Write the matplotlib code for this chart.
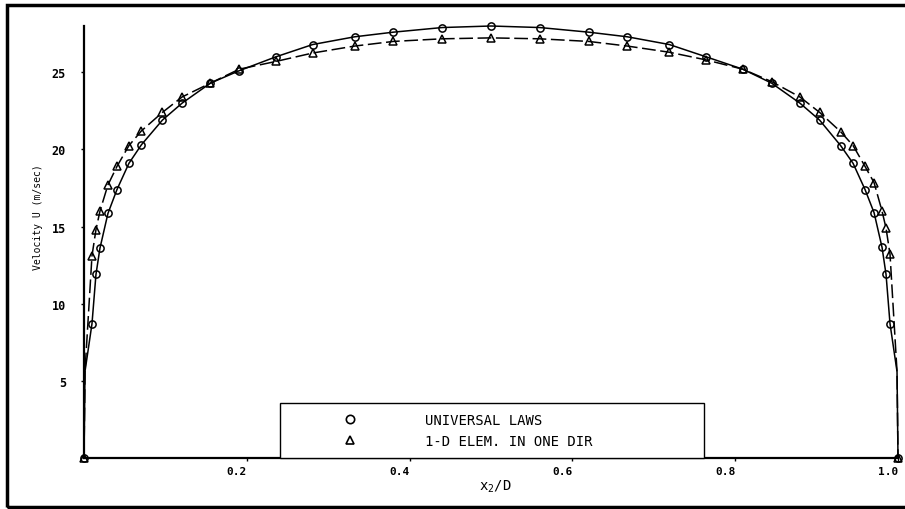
import matplotlib.pyplot as plt
from matplotlib.lines import Line2D
from matplotlib.patches import Rectangle

# profile across the duct
x_over_d = [0.0, 0.0012, 0.0098, 0.0147, 0.0196, 0.0294, 0.0405, 0.0552, 0.0705,
            0.0963, 0.1205, 0.1554, 0.1906, 0.2356, 0.2810, 0.3325, 0.3800, 0.4400,
            0.5000,
            0.5600, 0.6200, 0.6675, 0.7190, 0.7644, 0.8094, 0.8446, 0.8795, 0.9037,
            0.9295, 0.9448, 0.9595, 0.9706, 0.9804, 0.9853, 0.9902, 0.9988, 1.0]

u_universal = [0.0, 5.6, 8.7, 11.9, 13.6, 15.85, 17.4, 19.1, 20.3,
               21.9, 23.0, 24.3, 25.1, 26.0, 26.8, 27.3, 27.6, 27.9,
               28.0,
               27.9, 27.6, 27.3, 26.8, 26.0, 25.2, 24.3, 23.0, 21.9,
               20.25, 19.1, 17.4, 15.9, 13.65, 11.9, 8.7, 5.6, 0.0]

u_one_dir = [0.0, 5.6, 13.1, 14.8, 16.0, 17.7, 18.9, 20.25, 21.2,
             22.4, 23.4, 24.3, 25.2, 25.7, 26.25, 26.7, 27.0, 27.17,
             27.23,
             27.17, 27.0, 26.7, 26.3, 25.8, 25.2, 24.4, 23.4, 22.4,
             21.15, 20.25, 18.9, 17.85, 16.0, 14.9, 13.2, 5.6, 0.0]

series_labels = ["UNIVERSAL LAWS", "1-D ELEM. IN ONE DIR"]
x_ticks = [0.2, 0.4, 0.6, 0.8, 1.0]
x_tick_labels = ["0.2", "0.4", "0.6", "0.8", "1.0"]
y_ticks = [5, 10, 15, 20, 25]
y_tick_labels = ["5", "10", "15", "20", "25"]

MONO = "DejaVu Sans Mono"


def plot_profile(ax, x, y, marker, linestyle):
    # the two near-wall points have no symbol in the original
    skip = {1, len(x) - 2}
    every = [i for i in range(len(x)) if i not in skip]
    ax.plot(x, y, color="black", linewidth=1.1, linestyle=linestyle,
            marker=marker, markersize=5.2, markerfacecolor="none",
            markeredgecolor="black", markeredgewidth=1.1,
            markevery=every, clip_on=False, zorder=3)


fig = plt.figure(figsize=(9.05, 5.10), dpi=100)
ax = fig.add_axes([84 / 905, 1 - 459 / 510, 814 / 905, 432 / 510])

plot_profile(ax, x_over_d, u_universal, "o", "-")
plot_profile(ax, x_over_d, u_one_dir, "^", (0, (9, 3)))

ax.set_xlim(0, 1.0)
ax.set_ylim(0, 28)

for side in ["top", "right"]:
    ax.spines[side].set_visible(False)
for side in ["left", "bottom"]:
    ax.spines[side].set_linewidth(1.6)

ax.set_xticks(x_ticks)
ax.set_xticklabels(x_tick_labels, fontsize=8, family=MONO, fontweight="bold")
for lab in ax.get_xticklabels():
    lab.set_ha("right")
ax.set_yticks(y_ticks)
ax.set_yticklabels(y_tick_labels, fontsize=8.5, family=MONO, fontweight="bold")
ax.tick_params(axis="both", direction="out", length=2, width=1, pad=4)
ax.tick_params(axis="y", pad=11)

ax.set_ylabel("Velocity U (m/sec)", fontsize=7, family=MONO)
ax.yaxis.set_label_coords(-0.05, 0.56)
ax.set_xlabel(r"$\mathregular{x_2/D}$", fontsize=10, family=MONO)
ax.xaxis.set_label_coords(0.505, -0.045)

handles = [
    Line2D([], [], linestyle="none", marker="o", markersize=6,
           markerfacecolor="none", markeredgecolor="black", markeredgewidth=1.2),
    Line2D([], [], linestyle="none", marker="^", markersize=6,
           markerfacecolor="none", markeredgecolor="black", markeredgewidth=1.2),
]
leg = ax.legend(handles, series_labels, loc="lower left",
                bbox_to_anchor=(0.241, 0.0, 0.521, 0.13), mode="expand",
                borderaxespad=0, borderpad=0.75, handlelength=8.6,
                handletextpad=1.1, labelspacing=0.45, fancybox=False,
                framealpha=1, edgecolor="black",
                prop={"family": MONO, "size": 10})
leg.get_frame().set_linewidth(1.0)

# outer frame of the scanned figure
fig.patches.append(Rectangle((7 / 905, 2 / 510), 1.0, 502 / 510,
                             transform=fig.transFigure, fill=False,
                             edgecolor="black", linewidth=2.5))

fig.savefig("out.png", dpi=100)
